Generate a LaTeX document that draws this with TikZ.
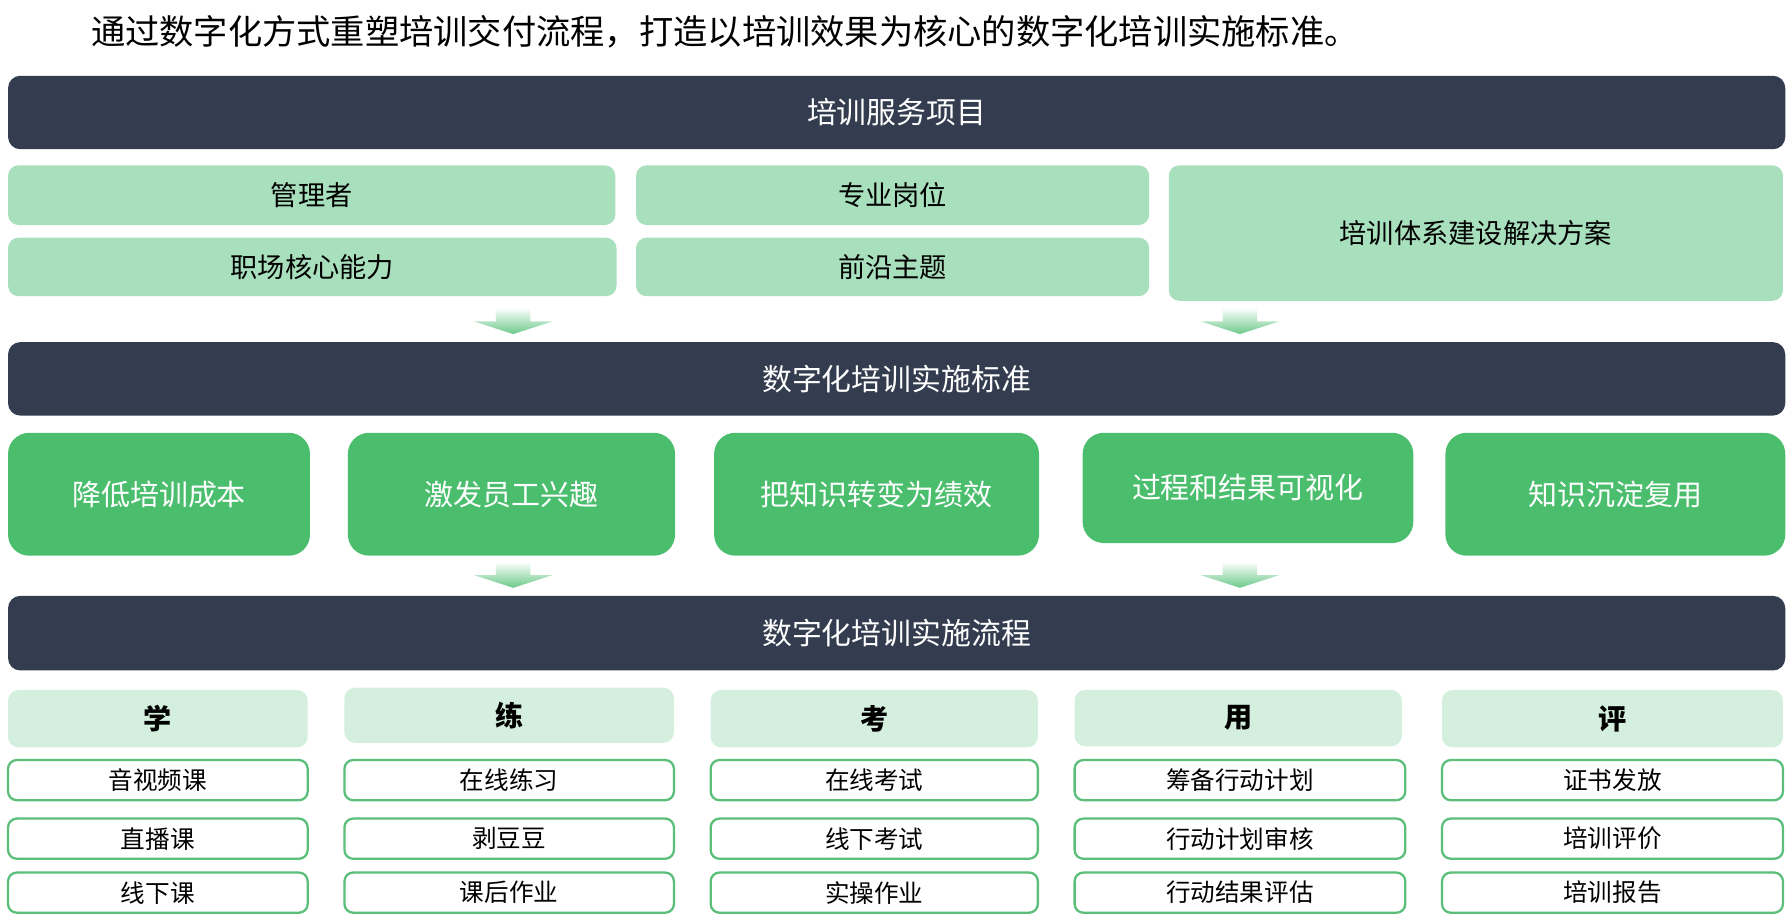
\documentclass[tikz,border=0pt]{standalone}
\usepackage{fontspec}
\setmainfont{Noto Sans CJK SC}
\usetikzlibrary{positioning, calc}

\definecolor{barfill}{HTML}{333D4F}
\definecolor{lightfill}{HTML}{A8DFBC}
\definecolor{mainfill}{HTML}{4BBE6E}
\definecolor{headfill}{HTML}{D4EFDD}
\definecolor{itemborder}{HTML}{5BBF7A}
\definecolor{arrowgreen}{HTML}{6CC98A}

\tikzset{
    bar/.style={rectangle, rounded corners=7pt, fill=barfill, text=white,
        font=\fontsize{17}{20}\selectfont, inner sep=0pt},
    topic/.style={rectangle, rounded corners=6pt, fill=lightfill,
        font=\fontsize{15.5}{18}\selectfont, inner sep=0pt},
    goal/.style={rectangle, rounded corners=12pt, fill=mainfill, text=white,
        font=\fontsize{16.5}{20}\selectfont, inner sep=0pt},
    stage/.style={rectangle, rounded corners=6pt, fill=headfill,
        font=\bfseries\fontsize{16}{19}\selectfont, inner sep=0pt},
    item/.style={rectangle, rounded corners=5pt, draw=itemborder, line width=1.3pt,
        fill=white, font=\fontsize{14}{17}\selectfont, inner sep=0pt},
}

% box from corner (x1,y1) to (x2,y2) in pixels
\newcommand{\pbox}[7]{%
  \node[#1, minimum width={(#4-#2)*0.02296cm}, minimum height={(#5-#3)*0.02296cm}]
    (#6) at ({(#2+#4)/2},{(#3+#5)/2}) {#7};}
% gradient arrow centered at x, top y
\newcommand{\flowarrow}[2]{%
  \shade[top color=white, bottom color=arrowgreen]
    (#1-15,#2) -- (#1+15,#2) -- (#1+15,#2+12) -- (#1+34,#2+12) -- (#1,#2+23)
    -- (#1-34,#2+12) -- (#1-15,#2+12) -- cycle;}

\begin{document}
\begin{tikzpicture}[x=0.02296cm, y=-0.02296cm]
\useasboundingbox (0,0) rectangle (1560,799);

% ── Title ──
\node[anchor=west, font=\fontsize{19.5}{23}\selectfont, inner sep=0pt] (title) at (79,28)
    {通过数字化方式重塑培训交付流程，打造以培训效果为核心的数字化培训实施标准。};

% ── Row 1: service items ──
\pbox{bar}{7}{66}{1555}{130}{service}{培训服务项目}
\pbox{topic}{7}{144}{536}{196}{manager}{管理者}
\pbox{topic}{7}{207}{537}{258}{core}{职场核心能力}
\pbox{topic}{554}{144}{1001}{196}{profession}{专业岗位}
\pbox{topic}{554}{207}{1001}{258}{frontier}{前沿主题}
\pbox{topic}{1018}{144}{1553}{262}{system}{培训体系建设解决方案}
\flowarrow{447}{268}
\flowarrow{1080}{268}

% ── Row 2: standard ──
\pbox{bar}{7}{298}{1555}{362}{standard}{数字化培训实施标准}
\pbox{goal}{7}{377}{270}{484}{cost}{降低培训成本}
\pbox{goal}{303}{377}{588}{484}{interest}{激发员工兴趣}
\pbox{goal}{622}{377}{905}{484}{perform}{把知识转变为绩效}
\pbox{goal}{943}{377}{1231}{473}{visual}{过程和结果可视化}
\pbox{goal}{1259}{377}{1555}{484}{reuse}{知识沉淀复用}
\flowarrow{447}{489}
\flowarrow{1080}{489}

% ── Row 3: process ──
\pbox{bar}{7}{519}{1555}{584}{process}{数字化培训实施流程}
\pbox{stage}{7}{601}{268}{651}{learn}{学}
\pbox{stage}{300}{599}{587}{647}{practice}{练}
\pbox{stage}{619}{601}{904}{651}{exam}{考}
\pbox{stage}{936}{601}{1221}{650}{apply}{用}
\pbox{stage}{1256}{601}{1553}{651}{review}{评}

\pbox{item}{7}{662}{268}{697}{l1}{音视频课}
\pbox{item}{7}{713}{268}{748}{l2}{直播课}
\pbox{item}{7}{760}{268}{795}{l3}{线下课}
\pbox{item}{300}{662}{587}{697}{p1}{在线练习}
\pbox{item}{300}{713}{587}{748}{p2}{剥豆豆}
\pbox{item}{300}{760}{587}{795}{p3}{课后作业}
\pbox{item}{619}{662}{904}{697}{e1}{在线考试}
\pbox{item}{619}{713}{904}{748}{e2}{线下考试}
\pbox{item}{619}{760}{904}{795}{e3}{实操作业}
\pbox{item}{936}{662}{1224}{697}{a1}{筹备行动计划}
\pbox{item}{936}{713}{1224}{748}{a2}{行动计划审核}
\pbox{item}{936}{760}{1224}{795}{a3}{行动结果评估}
\pbox{item}{1256}{662}{1553}{697}{r1}{证书发放}
\pbox{item}{1256}{713}{1553}{748}{r2}{培训评价}
\pbox{item}{1256}{760}{1553}{795}{r3}{培训报告}

\end{tikzpicture}
\end{document}
